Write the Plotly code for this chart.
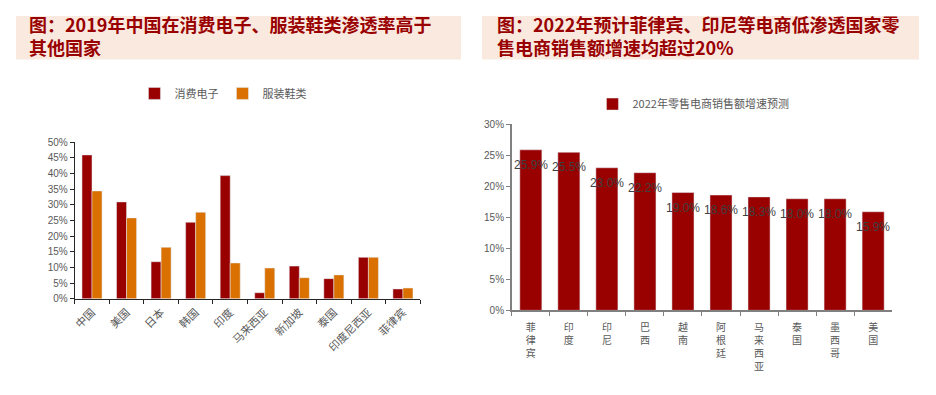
import plotly.graph_objects as go

# ---- Data ----
left_countries = ["中国", "美国", "日本", "韩国", "印度", "马来西亚", "新加坡", "泰国", "印度尼西亚", "菲律宾"]
consumer_elec = [45.9, 30.9, 11.8, 24.4, 39.3, 1.9, 10.4, 6.4, 13.2, 3.1]
apparel_shoes = [34.4, 25.8, 16.4, 27.6, 11.4, 9.8, 6.7, 7.6, 13.2, 3.4]

right_countries = ["菲律宾", "印度", "印尼", "巴西", "越南", "阿根廷", "马来西亚", "泰国", "墨西哥", "美国"]
growth_2022 = [25.9, 25.5, 23.0, 22.2, 19.0, 18.6, 18.3, 18.0, 18.0, 15.9]

left_title_lines = ["图：2019年中国在消费电子、服装鞋类渗透率高于", "其他国家"]
right_title_lines = ["图：2022年预计菲律宾、印尼等电商低渗透国家零", "售电商销售额增速均超过20%"]

DARK_RED = "#990000"
ORANGE = "#D97000"
GRAY = "#595959"
TITLE_BG = "#F9E9DF"
TITLE_FG = "#990000"
FONT = "Liberation Sans, Noto Sans CJK SC, sans-serif"
CJK = "Noto Sans CJK SC"

# page has an 8px body margin; figure sized to fit the window
OFF = 8
W, H = 936 - 2 * OFF, 395 - 2 * OFF


def px(x):
    return (x - OFF) / W


def py(y):
    return 1 - (y - OFF) / H


fig = go.Figure()

fig.add_trace(go.Bar(x=left_countries, y=consumer_elec, name="消费电子",
                     marker_color=DARK_RED, xaxis="x", yaxis="y", legend="legend"))
fig.add_trace(go.Bar(x=left_countries, y=apparel_shoes, name="服装鞋类",
                     marker_color=ORANGE, xaxis="x", yaxis="y", legend="legend"))
fig.add_trace(go.Bar(x=right_countries, y=growth_2022, name="2022年零售电商销售额增速预测",
                     marker_color=DARK_RED, xaxis="x2", yaxis="y2", legend="legend2"))

annotations = []
for c, v in zip(right_countries, growth_2022):
    annotations.append(dict(x=c, y=v, xref="x2", yref="y2", text=f"{v:.1f}%",
                            showarrow=False, yshift=-15,
                            font=dict(family=FONT, size=12, color="#404040")))

# titles (two-line text in one annotation)
for lines, x0 in ((left_title_lines, 23), (right_title_lines, 493)):
    annotations.append(dict(x=px(x0), y=py(3), xref="paper", yref="paper",
                            xanchor="left", yanchor="top", align="left",
                            showarrow=False, text="<br>".join(lines),
                            font=dict(family=CJK, size=18, color=TITLE_FG, weight="bold")))

shapes = [
    dict(type="rect", xref="paper", yref="paper", x0=px(12), x1=px(459), y0=py(55), y1=py(10),
         fillcolor=TITLE_BG, line_width=0, layer="below"),
    dict(type="rect", xref="paper", yref="paper", x0=px(480), x1=px(919), y0=py(55), y1=py(10),
         fillcolor=TITLE_BG, line_width=0, layer="below"),
]

fig.update_layout(
    width=W, height=H, margin=dict(l=0, r=0, t=0, b=0),
    paper_bgcolor="white", plot_bgcolor="white",
    font=dict(family=FONT, size=11, color=GRAY),
    barmode="group",
    bargap=0.42, bargroupgap=0,
    annotations=annotations, shapes=shapes,
    xaxis=dict(domain=[px(71), px(418)], anchor="y", showline=True, linecolor="#262626", linewidth=1,
               ticks="outside", tickson="boundaries", ticklen=4, tickcolor="#262626",
               tickangle=-45, tickfont=dict(family=CJK, size=11, color=GRAY),
               ticklabelstandoff=2, showgrid=False),
    yaxis=dict(domain=[py(302), py(140.3)], anchor="x", range=[0, 50], dtick=5, ticksuffix="%",
               showline=True, linecolor="#262626", linewidth=1, ticks="outside", ticklen=4,
               tickcolor="#262626", showgrid=False, zeroline=False,
               tickfont=dict(size=10, color=GRAY)),
    xaxis2=dict(domain=[px(510), px(892)], anchor="y2", showline=True, linecolor="#808080", linewidth=1.5,
                ticks="outside", tickson="boundaries", ticklen=4, tickcolor="#808080",
                tickvals=right_countries, ticktext=["<br>".join(list(c)) for c in right_countries],
                tickangle=0, tickfont=dict(family=CJK, size=10, color=GRAY),
                ticklabelstandoff=7, showgrid=False),
    yaxis2=dict(domain=[py(314), py(122)], anchor="x2", range=[0, 30], dtick=5, ticksuffix="%",
                showline=True, linecolor="#808080", linewidth=1.5, ticks="outside", ticklen=4,
                tickcolor="#808080", showgrid=False, zeroline=False,
                tickfont=dict(size=10, color=GRAY)),
    legend=dict(orientation="h", x=px(131), y=py(90), xanchor="left", yanchor="middle",
                font=dict(family=CJK, size=11, color=GRAY),
                bgcolor="rgba(0,0,0,0)", itemwidth=30, entrywidth=43, entrywidthmode="pixels"),
    legend2=dict(orientation="h", x=px(591), y=py(101), xanchor="left", yanchor="middle",
                 font=dict(family=CJK, size=11, color=GRAY),
                 bgcolor="rgba(0,0,0,0)", itemwidth=30),
)

fig.write_html("out.html")
